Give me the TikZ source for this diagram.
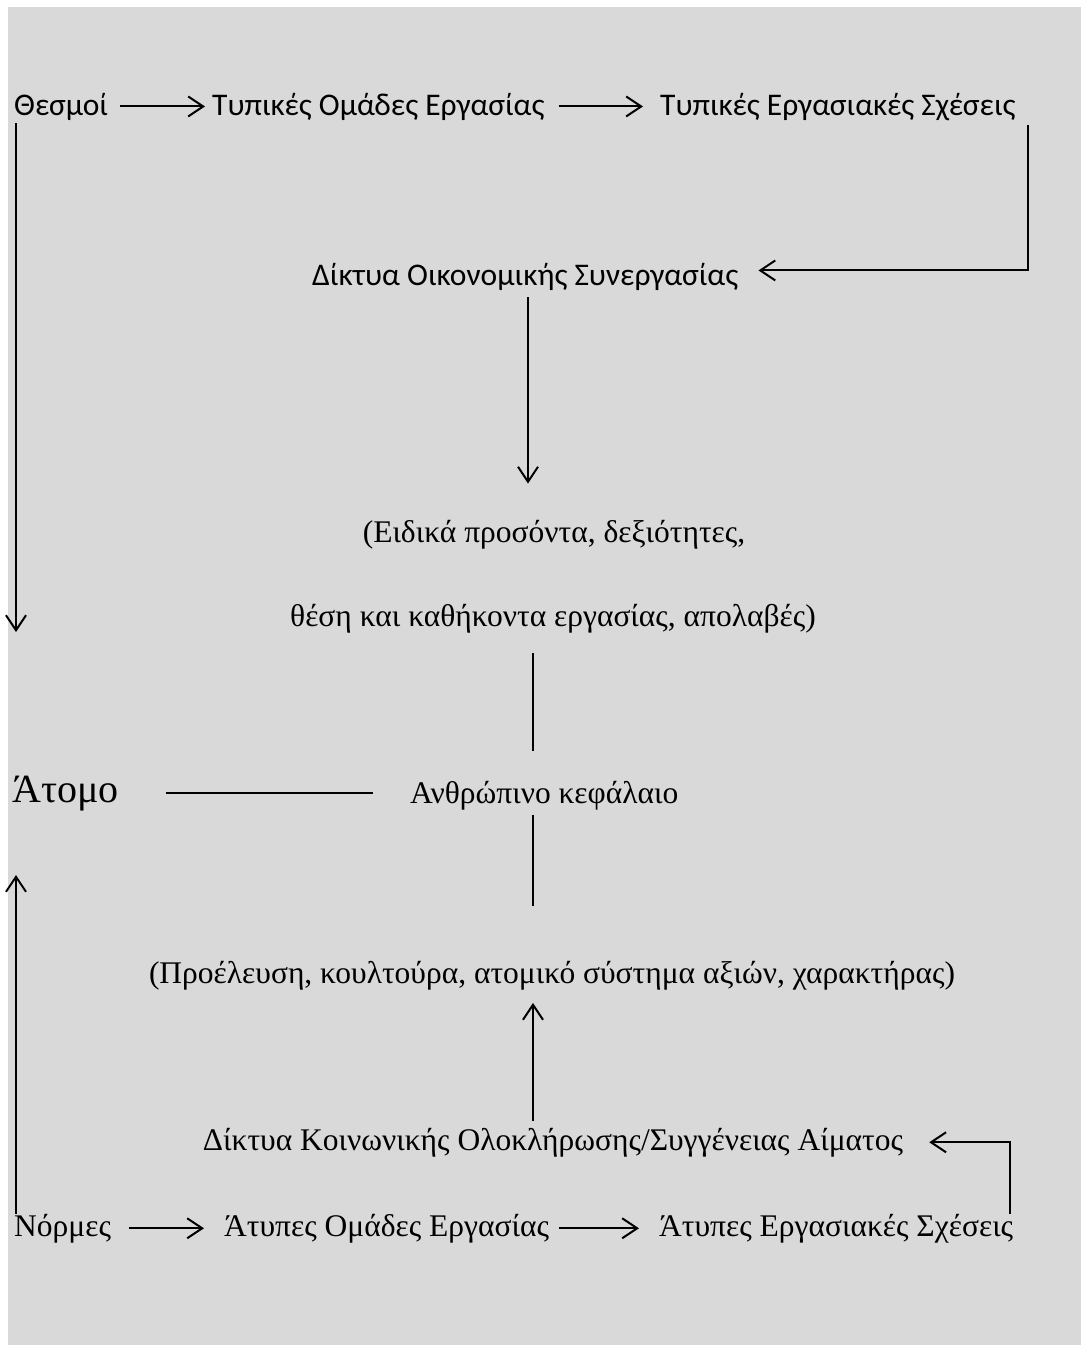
\documentclass[tikz,border=0pt]{standalone}
\usepackage{fontspec}
\setmainfont{Liberation Serif}
\newfontfamily\calfont{Carlito}
\usetikzlibrary{arrows.meta}
\definecolor{bggray}{HTML}{D9D9D9}
\tikzset{
  txt/.style={inner sep=0pt, anchor=base west, font=\fontsize{31.5}{36}\selectfont},
  sanstxt/.style={txt, font=\calfont\fontsize{31.5}{36}\selectfont},
  arr/.style={-{Straight Barb[length=15pt,width=20pt]}, line width=2pt},
  ln/.style={line width=2pt}
}
\begin{document}
\begin{tikzpicture}[x=1pt,y=-1pt]
		\useasboundingbox (0,0) rectangle (1081,1345);
		\fill[bggray] (8,7) rectangle (1095,1360);
		
		\node[sanstxt] (thesmoi) at(14,115) {Θεσμοί};
		\node[sanstxt] (typom) at(212,115) {Τυπικές Ομάδες Εργασίας};
		\node[sanstxt] (typerg) at(660,115) {Τυπικές Εργασιακές Σχέσεις};
		\node[sanstxt] (oikon) at(312,285) {Δίκτυα Οικονομικής Συνεργασίας};
		\node[txt,anchor=base] (eidikaA) at(554,542) {(Ειδικά προσόντα, δεξιότητες,};
		\node[txt,anchor=base] (eidikaB) at(553,626) {θέση και καθήκοντα εργασίας, απολαβές)};
		\node[txt,font=\fontsize{40}{44}\selectfont] (atomo) at(12,802) {Άτομο};
		\node[txt] (anthr) at(410,803) {Ανθρώπινο κεφάλαιο};
		\node[txt,anchor=base] (proel) at(552,983) {(Προέλευση, κουλτούρα, ατομικό σύστημα αξιών, χαρακτήρας)};
		\node[txt,anchor=base] (koin) at(553,1150) {Δίκτυα Κοινωνικής Ολοκλήρωσης/Συγγένειας Αίματος};
		\node[txt] (normes) at(14,1236) {Νόρμες};
		\node[txt] (atom) at(224,1236) {Άτυπες Ομάδες Εργασίας};
		\node[txt] (aterg) at(659,1236) {Άτυπες Εργασιακές Σχέσεις};
		
		\coordinate (spineA) at(528,0);
		\coordinate (spine) at(533,0);
		\coordinate (thdown) at(16,632);
		\coordinate (noup) at(16,875);
		
		% top row
		\draw[arr,shorten <=12pt,shorten >=7pt] (thesmoi.east) -- (typom.west |- thesmoi.east);
		\draw[arr,shorten <=14pt,shorten >=17pt] (typom.east) -- (typerg.west |- typom.east);
		\draw[arr,shorten >=20pt] ([xshift=12pt,yshift=-5pt]typerg.south east) |- ([yshift=6pt]oikon.east);
		\draw[arr,shorten <=7pt,shorten >=36pt] (oikon.south -| spineA) -- (eidikaA.north -| spineA);
		\draw[arr,shorten <=3pt] (thesmoi.south west -| thdown) -- (thdown);
		
		% centre
		\draw[ln,shorten <=20pt,shorten >=30pt] (eidikaB.south -| spine) -- (anthr.north -| spine);
		\draw[ln,shorten <=47pt,shorten >=37pt] (atomo.east) -- (anthr.west |- atomo.east);
		\draw[ln,shorten <=5pt,shorten >=55pt] (anthr.south -| spine) -- (proel.north -| spine);
		\draw[arr,shorten <=7pt,shorten >=13pt] (koin.north -| spine) -- (proel.south -| spine);
		
		% bottom row
		\draw[arr] (normes.north west -| noup) -- (noup);
		\draw[arr,shorten <=18pt,shorten >=20pt] (normes.east) -- (atom.west |- normes.east);
		\draw[arr,shorten <=10pt,shorten >=20pt] (atom.east) -- (aterg.west |- atom.east);
		\draw[arr,shorten >=26pt] ([xshift=-3pt]aterg.north east) |- (koin.east);
		\end{tikzpicture}
\end{document}
